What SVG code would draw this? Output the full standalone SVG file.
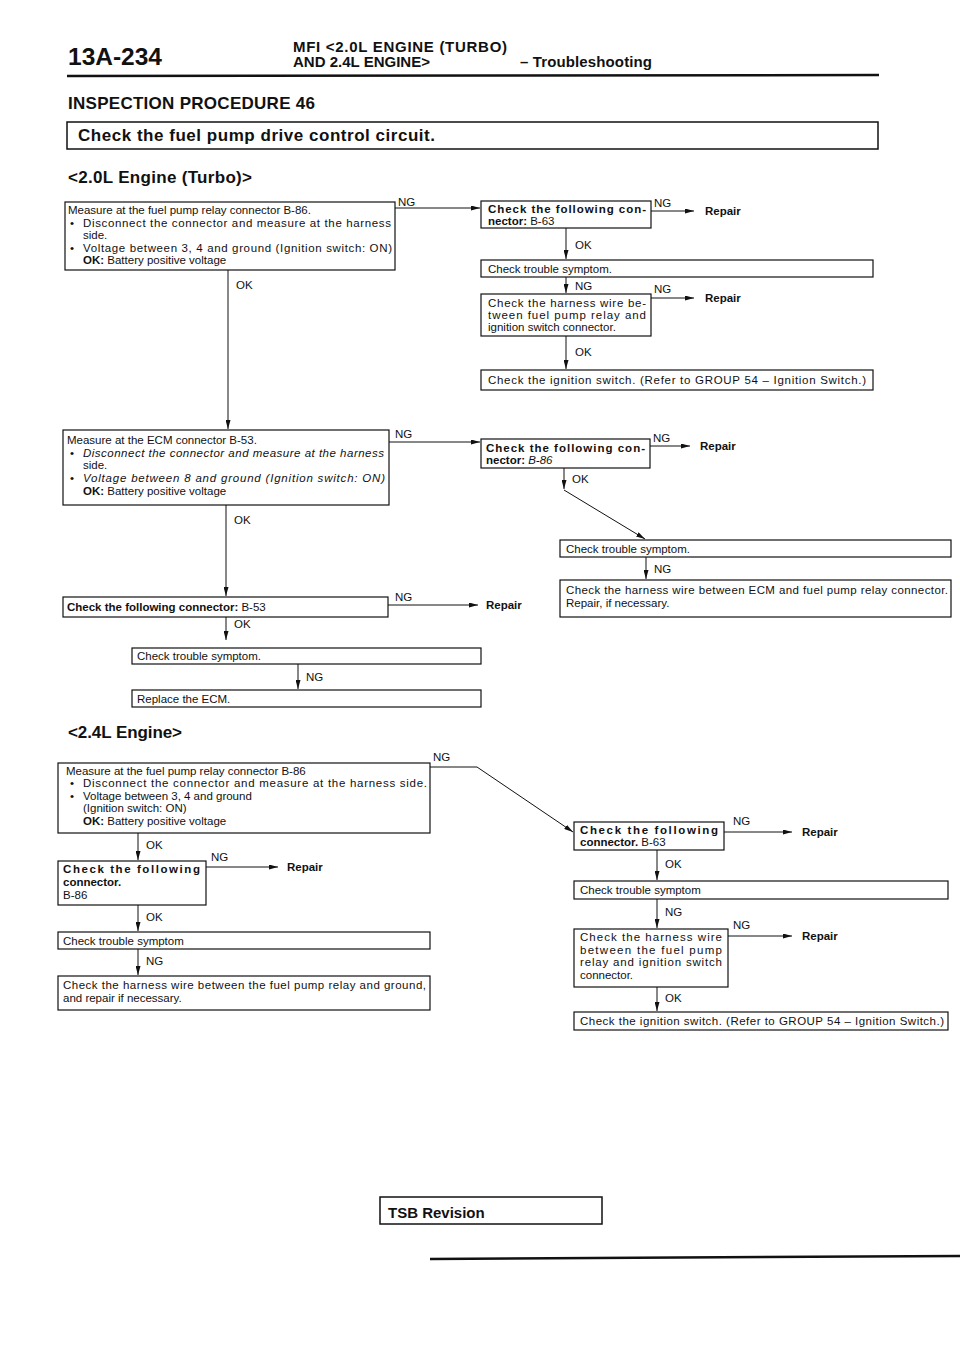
<svg xmlns="http://www.w3.org/2000/svg" width="960" height="1358" viewBox="0 0 960 1358">
<defs>
<marker id="ah" markerUnits="userSpaceOnUse" markerWidth="9" markerHeight="5" viewBox="0 0 9 5" refX="9" refY="2.5" orient="auto"><path d="M0,0 L9,2.5 L0,5 Z" fill="#111"/></marker>
<style>
.bx{fill:none;stroke:#111;stroke-width:1.2}
.cn{fill:none;stroke:#111;stroke-width:1;marker-end:url(#ah)}
text{font-family:"Liberation Sans",Arial,sans-serif;font-size:11.5px;fill:#111}
.b{font-weight:bold}
.i{font-style:italic}
.h{font-weight:bold;font-size:17px}
.hd{font-weight:bold;font-size:15px}
</style>
</defs>
<rect width="960" height="1358" fill="#fff"/>

<g id="header">
<text x="68" y="65" class="b" style="font-size:24.5px">13A-234</text>
<text x="293" y="52" class="hd" textLength="214" lengthAdjust="spacing">MFI &lt;2.0L ENGINE (TURBO)</text>
<text x="293" y="67" class="hd" textLength="137" lengthAdjust="spacing">AND 2.4L ENGINE&gt;</text>
<text x="520" y="67" class="hd" textLength="132" lengthAdjust="spacing">– Troubleshooting</text>
<line x1="67" y1="76" x2="879" y2="75" stroke="#111" stroke-width="2.5"/>
<text x="68" y="109" class="h" textLength="247" lengthAdjust="spacing">INSPECTION PROCEDURE 46</text>
<rect x="67" y="122" width="811" height="27" fill="none" stroke="#111" stroke-width="1.5"/>
<text x="78" y="141" class="h" textLength="357" lengthAdjust="spacing">Check the fuel pump drive control circuit.</text>
<text x="68" y="183" class="h" textLength="184" lengthAdjust="spacing">&lt;2.0L Engine (Turbo)&gt;</text>
<text x="68" y="738" class="h" textLength="114" lengthAdjust="spacing">&lt;2.4L Engine&gt;</text>
</g>

<g id="connectors">
<path class="cn" d="M395,208 H480"/>
<path class="cn" d="M228,270 V429"/>
<path class="cn" d="M651,211 H694"/>
<path class="cn" d="M566,228 V259"/>
<path class="cn" d="M566,277 V293"/>
<path class="cn" d="M651,298 H694"/>
<path class="cn" d="M566,336 V369"/>
<path class="cn" d="M389,442 H480"/>
<path class="cn" d="M650,446 H690"/>
<path class="cn" d="M564,468 V489"/>
<path class="cn" d="M564,490 L645,539"/>
<path class="cn" d="M646,557 V579"/>
<path class="cn" d="M226,505 V596"/>
<path class="cn" d="M388,605 H478"/>
<path class="cn" d="M226,617 V640"/>
<path class="cn" d="M298,664 V689"/>
<path class="cn" d="M430,767 H477 L573,832"/>
<path class="cn" d="M724,832 H792"/>
<path class="cn" d="M657,850 V880"/>
<path class="cn" d="M657,899 V928"/>
<path class="cn" d="M728,936 H792"/>
<path class="cn" d="M657,987 V1011"/>
<path class="cn" d="M138,833 V860"/>
<path class="cn" d="M206,867 H278"/>
<path class="cn" d="M138,905 V931"/>
<path class="cn" d="M138,949 V975"/>
<text x="398" y="206">NG</text>
<text x="236" y="289">OK</text>
<text x="654" y="207">NG</text>
<text x="705" y="215" class="b">Repair</text>
<text x="575" y="249">OK</text>
<text x="575" y="290">NG</text>
<text x="654" y="293">NG</text>
<text x="705" y="302" class="b">Repair</text>
<text x="575" y="356">OK</text>
<text x="395" y="438">NG</text>
<text x="653" y="442">NG</text>
<text x="700" y="450" class="b">Repair</text>
<text x="572" y="483">OK</text>
<text x="654" y="573">NG</text>
<text x="234" y="524">OK</text>
<text x="395" y="601">NG</text>
<text x="486" y="609" class="b">Repair</text>
<text x="234" y="628">OK</text>
<text x="306" y="681">NG</text>
<text x="433" y="761">NG</text>
<text x="733" y="825">NG</text>
<text x="802" y="836" class="b">Repair</text>
<text x="665" y="868">OK</text>
<text x="665" y="916">NG</text>
<text x="733" y="929">NG</text>
<text x="802" y="940" class="b">Repair</text>
<text x="665" y="1002">OK</text>
<text x="146" y="849">OK</text>
<text x="211" y="861">NG</text>
<text x="287" y="871" class="b">Repair</text>
<text x="146" y="921">OK</text>
<text x="146" y="965">NG</text>
</g>

<g id="n1">
<rect class="bx" x="65" y="202" width="330" height="68"/>
<text x="68" y="214">Measure at the fuel pump relay connector B-86.</text>
<text x="70" y="227">•</text>
<text x="83" y="227" textLength="308" lengthAdjust="spacing">Disconnect the connector and measure at the harness</text>
<text x="83" y="239">side.</text>
<text x="70" y="252">•</text>
<text x="83" y="252" textLength="309" lengthAdjust="spacing">Voltage between 3, 4 and ground (Ignition switch: ON)</text>
<text x="83" y="264"><tspan class="b">OK:</tspan> Battery positive voltage</text>
</g>

<g id="n2">
<rect class="bx" x="481" y="201" width="170" height="27"/>
<text x="488" y="213" class="b" textLength="158" lengthAdjust="spacing">Check the following con-</text>
<text x="488" y="225"><tspan class="b">nector:</tspan> B-63</text>
</g>

<g id="n3">
<rect class="bx" x="481" y="260" width="392" height="17"/>
<text x="488" y="273">Check trouble symptom.</text>
</g>

<g id="n4">
<rect class="bx" x="481" y="294" width="170" height="42"/>
<text x="488" y="307" textLength="158" lengthAdjust="spacing">Check the harness wire be-</text>
<text x="488" y="319" textLength="158" lengthAdjust="spacing">tween fuel pump relay and</text>
<text x="488" y="331">ignition switch connector.</text>
</g>

<g id="n5">
<rect class="bx" x="481" y="370" width="392" height="20"/>
<text x="488" y="384" textLength="378" lengthAdjust="spacing">Check the ignition switch. (Refer to GROUP 54 – Ignition Switch.)</text>
</g>

<g id="n6">
<rect class="bx" x="63" y="430" width="326" height="75"/>
<text x="67" y="444">Measure at the ECM connector B-53.</text>
<text x="70" y="457">•</text>
<text x="83" y="457" class="i" textLength="301" lengthAdjust="spacing">Disconnect the connector and measure at the harness</text>
<text x="83" y="469">side.</text>
<text x="70" y="482">•</text>
<text x="83" y="482" class="i" textLength="302" lengthAdjust="spacing">Voltage between 8 and ground (Ignition switch: ON)</text>
<text x="83" y="495"><tspan class="b">OK:</tspan> Battery positive voltage</text>
</g>

<g id="n7">
<rect class="bx" x="481" y="439" width="169" height="29"/>
<text x="486" y="452" class="b" textLength="159" lengthAdjust="spacing">Check the following con-</text>
<text x="486" y="464"><tspan class="b">nector:</tspan> <tspan class="i">B-86</tspan></text>
</g>

<g id="n8">
<rect class="bx" x="560" y="540" width="391" height="17"/>
<text x="566" y="553">Check trouble symptom.</text>
</g>

<g id="n9">
<rect class="bx" x="560" y="580" width="391" height="37"/>
<text x="566" y="594" textLength="382" lengthAdjust="spacing">Check the harness wire between ECM and fuel pump relay connector.</text>
<text x="566" y="607">Repair, if necessary.</text>
</g>

<g id="n10">
<rect class="bx" x="63" y="597" width="325" height="20"/>
<text x="67" y="611"><tspan class="b">Check the following connector:</tspan> B-53</text>
</g>

<g id="n11">
<rect class="bx" x="132" y="648" width="349" height="16"/>
<text x="137" y="660">Check trouble symptom.</text>
</g>

<g id="n12">
<rect class="bx" x="132" y="690" width="349" height="17"/>
<text x="137" y="703">Replace the ECM.</text>
</g>

<g id="n13">
<rect class="bx" x="58" y="763" width="372" height="70"/>
<text x="66" y="775">Measure at the fuel pump relay connector B-86</text>
<text x="70" y="787">•</text>
<text x="83" y="787" textLength="344" lengthAdjust="spacing">Disconnect the connector and measure at the harness side.</text>
<text x="70" y="800">•</text>
<text x="83" y="800">Voltage between 3, 4 and ground</text>
<text x="83" y="812">(Ignition switch: ON)</text>
<text x="83" y="825"><tspan class="b">OK:</tspan>  Battery positive voltage</text>
</g>

<g id="n14">
<rect class="bx" x="574" y="822" width="150" height="28"/>
<text x="580" y="834" class="b" textLength="138" lengthAdjust="spacing">Check the following</text>
<text x="580" y="846"><tspan class="b">connector.</tspan> B-63</text>
</g>

<g id="n15">
<rect class="bx" x="574" y="881" width="374" height="18"/>
<text x="580" y="894">Check trouble symptom</text>
</g>

<g id="n16">
<rect class="bx" x="574" y="929" width="154" height="58"/>
<text x="580" y="941" textLength="142" lengthAdjust="spacing">Check the harness wire</text>
<text x="580" y="954" textLength="142" lengthAdjust="spacing">between the fuel pump</text>
<text x="580" y="966" textLength="142" lengthAdjust="spacing">relay and ignition switch</text>
<text x="580" y="979">connector.</text>
</g>

<g id="n17">
<rect class="bx" x="574" y="1012" width="374" height="18"/>
<text x="580" y="1025" textLength="364" lengthAdjust="spacing">Check the ignition switch. (Refer to GROUP 54 – Ignition Switch.)</text>
</g>

<g id="n18">
<rect class="bx" x="58" y="861" width="148" height="44"/>
<text x="63" y="873" class="b" textLength="137" lengthAdjust="spacing">Check the following</text>
<text x="63" y="886" class="b">connector.</text>
<text x="63" y="899">B-86</text>
</g>

<g id="n19">
<rect class="bx" x="58" y="932" width="372" height="17"/>
<text x="63" y="945">Check trouble symptom</text>
</g>

<g id="n20">
<rect class="bx" x="58" y="976" width="372" height="34"/>
<text x="63" y="989" textLength="363" lengthAdjust="spacing">Check the harness wire between the fuel pump relay and ground,</text>
<text x="63" y="1002">and repair if necessary.</text>
</g>

<g id="footer">
<rect x="380" y="1197" width="222" height="27" fill="none" stroke="#111" stroke-width="1.5"/>
<text x="388" y="1218" class="b" style="font-size:15px">TSB Revision</text>
<line x1="430" y1="1259" x2="960" y2="1256" stroke="#111" stroke-width="2.5"/>
</g>
</svg>
